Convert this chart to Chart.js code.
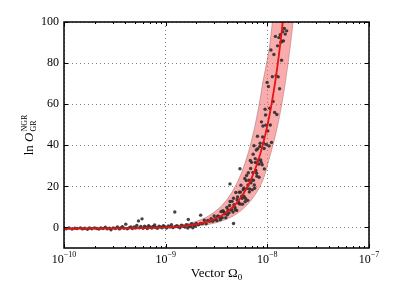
<!DOCTYPE html>
<html>
<head>
<meta charset="utf-8">
<script src="https://cdn.jsdelivr.net/npm/chart.js@4/dist/chart.umd.min.js"></script>
<style>
  html, body { margin: 0; padding: 0; background: #fff; }
  #chart { display: block; }
</style>
</head>
<body>
<canvas id="chart" width="399" height="299"></canvas>
<script>
// x grid for the fitted curve and its band
const curveX = [1e-10, 3e-10, 6e-10, 1e-9, 1.5e-9, 2e-9, 2.5e-9, 3e-9, 3.5e-9, 4e-9, 4.5e-9, 5e-9,
  5.5e-9, 6e-9, 6.5e-9, 7e-9, 7.5e-9, 8e-9, 8.5e-9, 9e-9, 9.5e-9, 1e-8, 1.05e-8, 1.1e-8,
  1.15e-8, 1.2e-8, 1.25e-8, 1.3e-8, 1.35e-8, 1.4e-8, 1.45e-8, 1.5e-8, 1.6e-8, 1.7e-8, 1.8e-8, 1.9e-8];
const curveY = [-0.5, -0.45, -0.3, 0.0, 0.6, 1.5, 2.6, 4.0, 5.6, 7.5, 9.6, 12.0,
  14.6, 17.5, 20.6, 24.0, 27.6, 31.5, 35.6, 40.0, 44.6, 49.5, 54.6, 60.0,
  65.6, 71.5, 77.6, 84.0, 90.6, 97.5, 104.6, 112, 127.5, 144, 161, 180];
const bandUpper = [-0.3, -0.3, -0.05, 0.35, 1.4, 2.9, 4.9, 7.4, 10.2, 13.5, 17.2, 21.4,
  25.9, 31.0, 36.4, 42.4, 48.7, 55.5, 62.7, 70.4, 76.2, 82.0, 87.7, 96.3,
  105.3, 114, 124, 134, 145, 156, 167, 179, 203, 229, 257, 286];
const bandLower = [-0.7, -0.65, -0.55, -0.2, 0.15, 0.7, 1.27, 2.07, 2.99, 4.07, 5.27, 6.64,
  8.13, 9.79, 11.56, 13.5, 15.56, 17.79, 20.13, 22.64, 26.0, 29.8, 33.9, 37.5,
  41.1, 44.8, 48.6, 52.6, 56.8, 61.1, 65.6, 70.2, 79.9, 90, 101, 112];

// sampled points [Omega0, ln O]
const samples = [
  [1.05e-10,-0.6],[1.12e-10,-0.3],[1.2e-10,-0.8],[1.28e-10,-0.4],[1.35e-10,-0.5],[1.45e-10,-0.2],
  [1.52e-10,-0.7],[1.6e-10,-0.4],[1.7e-10,-0.9],[1.78e-10,-0.3],[1.88e-10,-0.6],[2.0e-10,-0.2],
  [2.1e-10,-0.5],[2.2e-10,-0.8],[2.3e-10,-0.3],[2.42e-10,-0.5],[2.55e-10,0.1],[2.65e-10,-0.6],
  [2.8e-10,-0.4],[2.9e-10,-1.1],[3.05e-10,-0.2],[3.2e-10,-0.5],[3.35e-10,0.2],[3.5e-10,-0.7],
  [3.6e-10,-0.3],[3.75e-10,0.4],[3.9e-10,-0.4],[4.05e-10,1.6],[4.2e-10,-0.6],[4.4e-10,-0.1],
  [4.55e-10,0.3],[4.7e-10,-0.5],[4.9e-10,0.2],[5.05e-10,-0.3],[5.2e-10,1.0],[5.4e-10,3.2],
  [5.5e-10,-0.2],[5.7e-10,0.5],[5.85e-10,4.2],[6.0e-10,-0.4],[6.2e-10,0.6],[6.4e-10,0.1],
  [6.6e-10,-0.5],[6.8e-10,0.8],[7.0e-10,0.2],[7.3e-10,-0.3],[7.5e-10,0.5],[7.8e-10,1.2],
  [8.0e-10,0.0],[8.3e-10,-0.4],[8.6e-10,0.6],[8.9e-10,0.3],[9.2e-10,-0.2],[9.5e-10,0.9],
  [9.8e-10,0.4],[1.02e-9,-0.3],[1.06e-9,0.7],[1.1e-9,0.2],[1.14e-9,1.3],[1.18e-9,-0.1],
  [1.23e-9,7.5],[1.25e-9,0.5],[1.29e-9,0.9],[1.32e-9,0.3],[1.38e-9,-0.2],[1.43e-9,1.1],
  [1.48e-9,0.6],[1.55e-9,0.2],[1.6e-9,1.4],[1.65e-9,-0.3],[1.67e-9,3.9],[1.7e-9,0.9],
  [1.75e-9,0.4],[1.8e-9,1.8],[1.85e-9,-0.2],[1.9e-9,1.2],[1.95e-9,0.6],[2.21e-9,6.0],
  [4.29e-9,21.2],[5.38e-9,28.6],[4.65e-9,1.9],
  [2.0e-9,2.0],[2.1e-9,1.3],[2.2e-9,2.0],[2.3e-9,1.9],[2.4e-9,3.5],[2.5e-9,1.8],
  [2.6e-9,3.4],[2.7e-9,3.0],[2.8e-9,4.3],[2.9e-9,3.0],[3.0e-9,5.6],[3.1e-9,4.3],
  [3.2e-9,3.3],[3.3e-9,5.5],[3.4e-9,4.8],[3.5e-9,7.7],[3.6e-9,4.7],[3.7e-9,7.7],
  [3.8e-9,6.6],[3.9e-9,4.7],[4.0e-9,9.7],[4.1e-9,8.5],[4.2e-9,7.1],[4.3e-9,12.6],
  [4.4e-9,8.5],[4.5e-9,12.7],[4.6e-9,7.5],[4.7e-9,11.1],[4.8e-9,9.7],[4.9e-9,17.0],
  [5.0e-9,8.3],[5.1e-9,14.8],[5.2e-9,12.4],[5.3e-9,17.1],[5.4e-9,11.4],[5.5e-9,20.6],
  [5.6e-9,15.2],[5.7e-9,11.3],[5.8e-9,18.3],[5.9e-9,15.2],[6.0e-9,23.8],[6.1e-9,14.1],
  [6.2e-9,22.8],[6.3e-9,19.0],[6.4e-9,13.2],[6.5e-9,26.6],[6.6e-9,23.0],[6.7e-9,18.7],
  [6.8e-9,32.6],[6.9e-9,21.7],[7.0e-9,31.7],[7.1e-9,18.3],[7.2e-9,26.7],[7.3e-9,23.0],
  [7.4e-9,39.8],[7.5e-9,19.1],[7.6e-9,33.5],[7.7e-9,27.7],[7.8e-9,37.7],[7.9e-9,24.9],
  [8.0e-9,44.4],[8.15e-9,32.7],[8.3e-9,24.4],[8.45e-9,39.4],[8.6e-9,32.8],[8.75e-9,51.4],
  [8.9e-9,30.5],[9.05e-9,49.4],[9.2e-9,41.0],[9.35e-9,28.5],[9.5e-9,57.5],[9.65e-9,49.8],
  [9.8e-9,40.4],[9.95e-9,70.6],[1.01e-8,47.0],[1.025e-8,68.6],[1.04e-8,39.7],[1.055e-8,58.0],
  [1.07e-8,49.9],[1.085e-8,86.4],[1.1e-8,41.4],[1.12e-8,73.4],[1.14e-8,61.3],[1.16e-8,84.2],
  [1.18e-8,56.0],[1.2e-8,93.0],[1.22e-8,73.9],[1.24e-8,55.0],[1.26e-8,88.4],[1.28e-8,73.3],
  [1.3e-8,92.4],[1.32e-8,67.5],[1.34e-8,93.8],[1.36e-8,90.2],[1.38e-8,81.4],[1.4e-8,90.7],
  [1.42e-8,95.3],[1.44e-8,90.8],[1.47e-8,96.8],[1.5e-8,94.1],[1.55e-8,95.7],
  [3.05e-9,3.8],[3.25e-9,5.5],[3.45e-9,3.8],[3.65e-9,8.2],[3.85e-9,7.0],[4.05e-9,6.2],
  [4.25e-9,10.7],[4.45e-9,8.9],[4.65e-9,14.2],[4.85e-9,8.6],[5.05e-9,13.5],[5.25e-9,11.6],
  [5.45e-9,17.2],[5.65e-9,14.2],[5.85e-9,19.1],[6.05e-9,12.5],[6.25e-9,25.3],[6.45e-9,20.7],
  [6.65e-9,17.3],[6.85e-9,28.7],[7.05e-9,23.1],[7.25e-9,35.6],[7.45e-9,20.7],[7.65e-9,31.6],
  [7.85e-9,26.4],[8.05e-9,38.3],[8.25e-9,30.8],[8.5e-9,41.0],[8.7e-9,31.7],[9.0e-9,44.0],
  [9.3e-9,38.4],[9.6e-9,54.7]
];

const yTicks = [0, 20, 40, 60, 80, 100];
const xDecades = [1e-10, 1e-9, 1e-8, 1e-7];
const xExponents = ['\u221210', '\u22129', '\u22128', '\u22127'];

const SERIF = '"Liberation Serif", "DejaVu Serif", serif';
const isDecade = v => Math.abs(Math.log10(v) - Math.round(Math.log10(v))) < 1e-6;

const frame = {
  id: 'frame',
  afterDraw(chart) {
    const { ctx, chartArea: a, scales: { x, y } } = chart;
    ctx.save();
    ctx.strokeStyle = '#000';
    ctx.lineWidth = 1;
    ctx.beginPath();
    x.ticks.forEach(t => {
      const px = Math.round(x.getPixelForValue(t.value)) + 0.5;
      const len = isDecade(t.value) ? 4 : 2;
      ctx.moveTo(px, a.bottom); ctx.lineTo(px, a.bottom - len);
      ctx.moveTo(px, a.top); ctx.lineTo(px, a.top + len);
    });
    y.ticks.forEach(t => {
      const py = Math.round(y.getPixelForValue(t.value)) + 0.5;
      ctx.moveTo(a.left, py); ctx.lineTo(a.left + 4, py);
      ctx.moveTo(a.right, py); ctx.lineTo(a.right - 4, py);
    });
    ctx.stroke();
    ctx.lineWidth = 1.5;
    ctx.strokeRect(a.left, a.top, a.right - a.left, a.bottom - a.top);

    // x tick labels 10^n
    ctx.fillStyle = '#000';
    ctx.textBaseline = 'alphabetic';
    xDecades.forEach((v, i) => {
      const px = x.getPixelForValue(v);
      ctx.font = '12px ' + SERIF;
      const w1 = ctx.measureText('10').width;
      ctx.font = '8px ' + SERIF;
      const w2 = ctx.measureText(xExponents[i]).width;
      const left = px - (w1 + w2) / 2;
      ctx.font = '12px ' + SERIF;
      ctx.textAlign = 'left';
      ctx.fillText('10', left, a.bottom + 15);
      ctx.font = '8px ' + SERIF;
      ctx.fillText(xExponents[i], left + w1, a.bottom + 9);
    });

    // x axis title
    ctx.font = '13px ' + SERIF;
    const tw = ctx.measureText('Vector \u03a9').width;
    ctx.font = '9px ' + SERIF;
    const sw = ctx.measureText('0').width;
    const tx = (a.left + a.right) / 2 - (tw + sw) / 2;
    ctx.font = '13px ' + SERIF;
    ctx.fillText('Vector \u03a9', tx, 277);
    ctx.font = '9px ' + SERIF;
    ctx.fillText('0', tx + tw, 280);

    // y axis title: ln O_GR^NGR
    ctx.translate(28, 135);
    ctx.rotate(-Math.PI / 2);
    ctx.font = '13px ' + SERIF;
    const lnW = ctx.measureText('ln ').width;
    ctx.font = 'italic 13px ' + SERIF;
    const oW = ctx.measureText('O').width;
    ctx.font = '8px ' + SERIF;
    const supW = ctx.measureText('NGR').width;
    let cx = -(lnW + oW + supW + 1) / 2;
    ctx.font = '13px ' + SERIF;
    ctx.fillText('ln ', cx, 5);
    cx += lnW;
    ctx.font = 'italic 13px ' + SERIF;
    ctx.fillText('O', cx, 5);
    cx += oW + 1;
    ctx.font = '8px ' + SERIF;
    ctx.fillText('NGR', cx, -1);
    ctx.fillText('GR', cx, 8);
    ctx.restore();
  }
};

const toPoints = (xs, ys) => xs.map((v, i) => ({ x: v, y: ys[i] }));

new Chart(document.getElementById('chart'), {
  type: 'scatter',
  data: {
    datasets: [
      {
        type: 'line',
        data: toPoints(curveX, curveY),
        borderColor: 'rgb(230,20,20)',
        borderWidth: 1.8,
        pointRadius: 0,
        fill: false,
        tension: 0
      },
      {
        data: samples.map(p => ({ x: p[0], y: p[1] })),
        backgroundColor: 'rgba(45,45,45,0.9)',
        borderWidth: 0,
        pointRadius: 1.7
      },
      {
        type: 'line',
        data: toPoints(curveX, bandUpper),
        borderColor: 'rgba(130,90,90,0.55)',
        borderWidth: 0.8,
        backgroundColor: 'rgba(245,90,90,0.5)',
        pointRadius: 0,
        fill: '+1'
      },
      {
        type: 'line',
        data: toPoints(curveX, bandLower),
        borderColor: 'rgba(130,90,90,0.55)',
        borderWidth: 0.8,
        pointRadius: 0,
        fill: false
      }
    ]
  },
  options: {
    responsive: false,
    animation: false,
    events: [],
    layout: { padding: { top: 22, right: 30, left: 0, bottom: 0 } },
    plugins: { legend: { display: false }, tooltip: { enabled: false } },
    scales: {
      x: {
        type: 'logarithmic',
        min: 1e-10,
        max: 1e-7,
        afterBuildTicks: scale => {
          const ticks = [];
          [1e-10, 1e-9, 1e-8].forEach(d => {
            for (let m = 1; m < 10; m++) ticks.push({ value: d * m });
          });
          ticks.push({ value: 1e-7 });
          scale.ticks = ticks;
        },
        afterFit: scale => { scale.height = 51; },
        ticks: { display: false },
        grid: {
          drawTicks: false,
          lineWidth: 1,
          color: c => (c.tick && isDecade(c.tick.value)) ? 'rgba(0,0,0,0.5)' : 'rgba(0,0,0,0)'
        },
        border: { display: false, dash: [1, 3] }
      },
      y: {
        min: -10,
        max: 100,
        afterBuildTicks: scale => { scale.ticks = yTicks.map(v => ({ value: v })); },
        afterFit: scale => { scale.width = 64; },
        ticks: {
          padding: 5,
          color: '#000',
          font: { family: SERIF, size: 12 }
        },
        grid: { drawTicks: false, lineWidth: 1, color: 'rgba(0,0,0,0.5)' },
        border: { display: false, dash: [1, 3] }
      }
    }
  },
  plugins: [frame]
});
</script>
</body>
</html>
